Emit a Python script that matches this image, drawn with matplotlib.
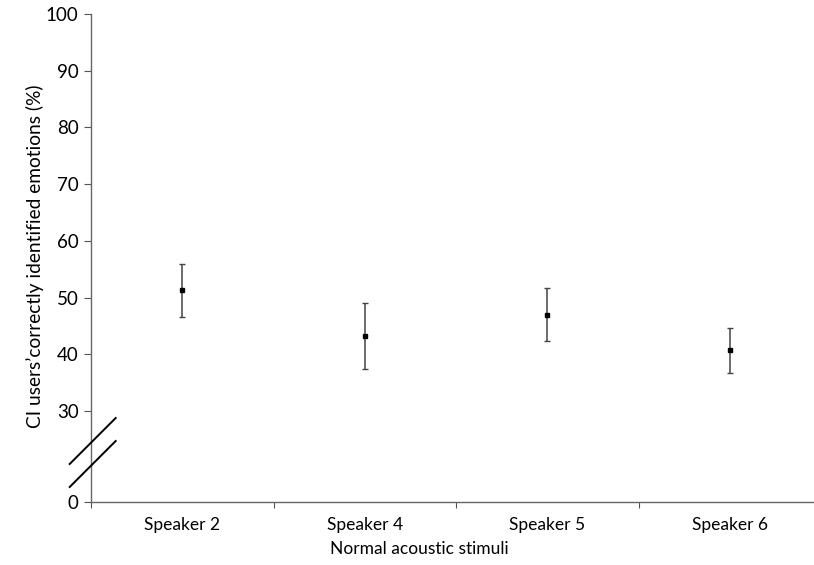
import numpy as np
import matplotlib
matplotlib.use("Agg")
import matplotlib.pyplot as plt
from matplotlib.lines import Line2D

plt.rcParams['font.family'] = ['Lato', 'DejaVu Sans']

categories = ["Speaker 2", "Speaker 4", "Speaker 5", "Speaker 6"]
means = [51.3, 43.2, 47.0, 40.7]
upper = [56.0, 49.0, 51.6, 44.6]
lower = [46.6, 37.4, 42.3, 36.7]
yticks = [0, 30, 40, 50, 60, 70, 80, 90, 100]

BREAK = 30.0
K = 0.535

def fwd(y):
    y = np.asarray(y, dtype=float)
    return np.where(y >= BREAK, y, BREAK - (BREAK - y) * K)

def inv(z):
    z = np.asarray(z, dtype=float)
    return np.where(z >= BREAK, z, BREAK - (BREAK - z) / K)

W, H = 814, 565
fig = plt.figure(figsize=(W / 100, H / 100), dpi=100)
left, right, bottom, top = 91, 821, 502, 14
ax = fig.add_axes([left / W, (H - bottom) / H, (right - left) / W, (bottom - top) / H])
ax.set_yscale('function', functions=(fwd, inv))
ax.set_ylim(0, 100)
ax.set_xlim(-0.5, len(categories) - 0.5)

x = np.arange(len(categories))
m = np.array(means)
yerr = [m - np.array(lower), np.array(upper) - m]
ax.errorbar(x, m, yerr=yerr, fmt='s', color='black', ms=3.5, ecolor='#444444',
            elinewidth=1.1, capsize=2, capthick=1.0, zorder=3)

ax.set_yticks(yticks)
ax.set_yticklabels([str(t) for t in yticks], fontsize=13.5)
ax.set_xticks(np.arange(len(categories) + 1) - 0.5)
ax.set_xticklabels([])
ax.set_xticks(x, minor=True)
ax.set_xticklabels(categories, minor=True, fontsize=12.5)
ax.tick_params(axis='x', which='minor', length=0, pad=11)
ax.tick_params(axis='x', which='major', length=4, color='#555555', direction='out')
ax.tick_params(axis='y', length=5, color='#555555', direction='out', pad=4)

for s in ['top', 'right']:
    ax.spines[s].set_visible(False)
for s in ['left', 'bottom']:
    ax.spines[s].set_color('#666666')
    ax.spines[s].set_linewidth(1.0)

fig.text(419 / W, (H - 549) / H, "Normal acoustic stimuli", ha='center', va='center', fontsize=12.5)
fig.text(35 / W, (H - 256) / H, "CI users\u2019correctly identified emotions (%)", ha='center', va='center',
         rotation=90, fontsize=13.8)

# axis break marks
for (x0, y0, x1, y1) in [(69.7, 464, 115.7, 418), (69.7, 487, 115.7, 441)]:
    fig.add_artist(Line2D([x0 / W, x1 / W], [(H - y0) / H, (H - y1) / H], transform=fig.transFigure,
                          color='black', lw=1.4))

fig.savefig("out.png", dpi=100)
